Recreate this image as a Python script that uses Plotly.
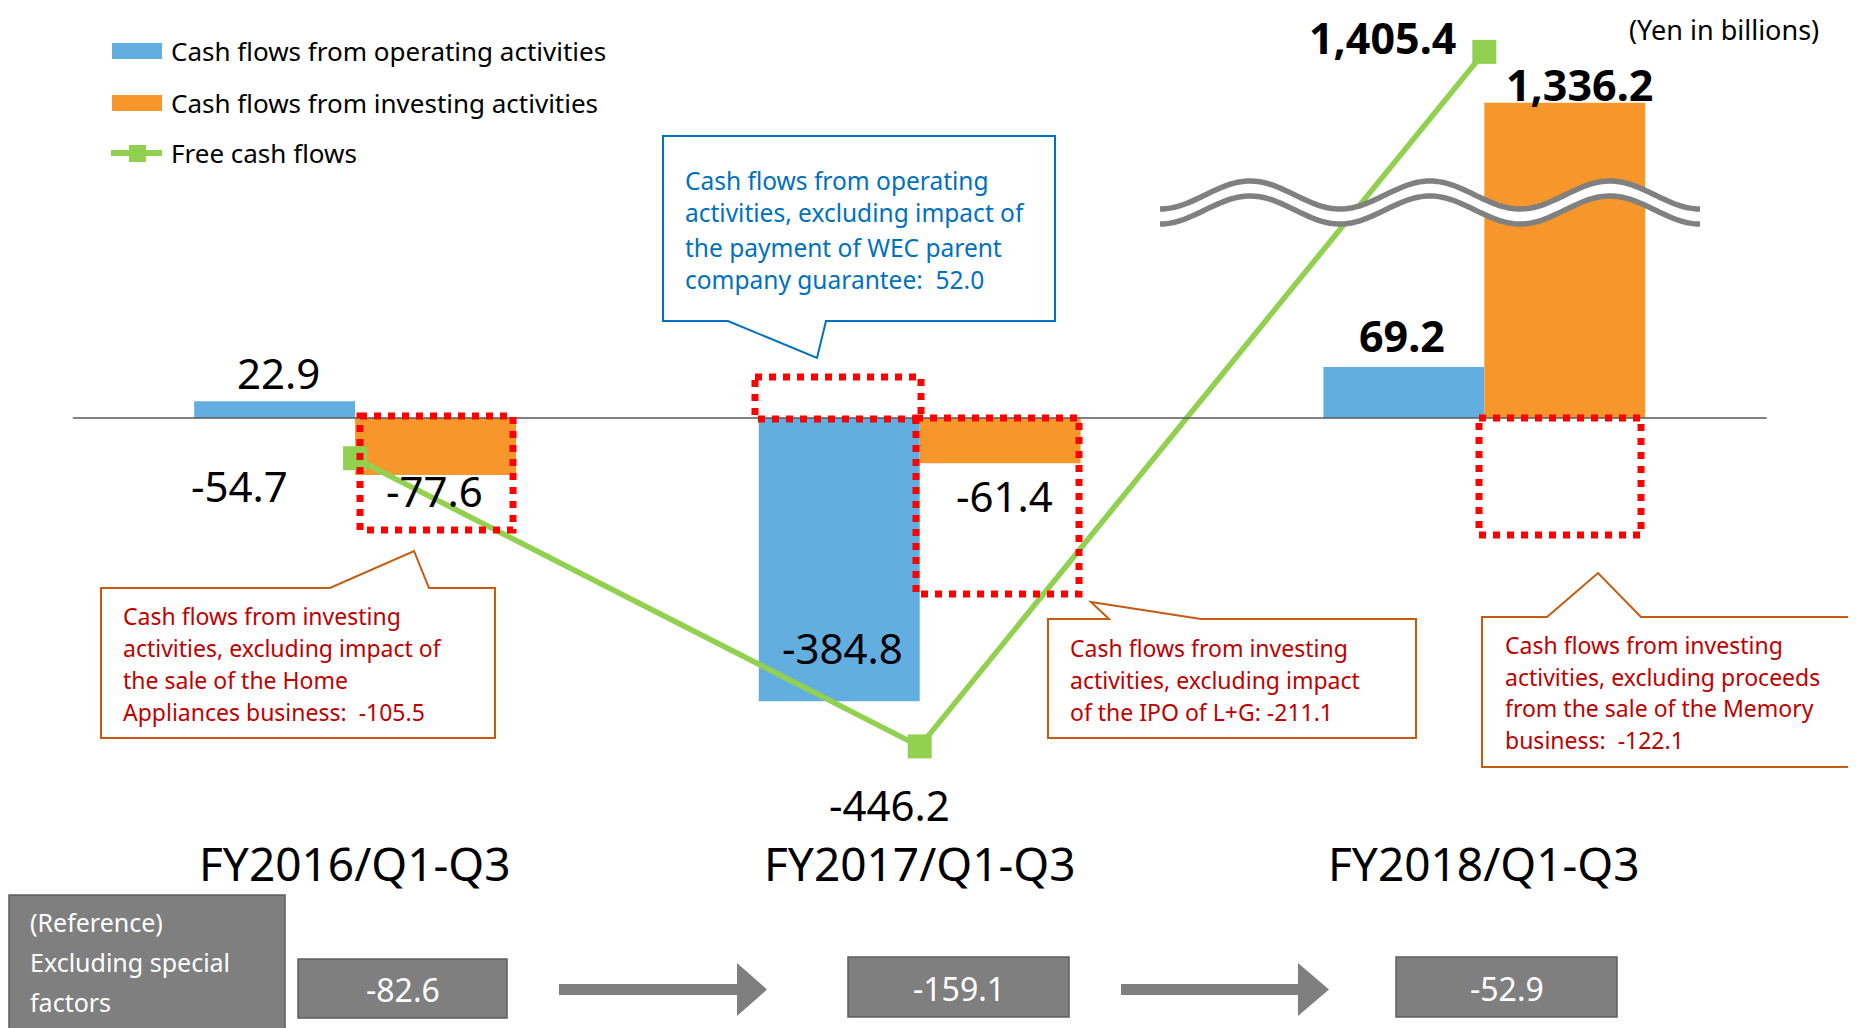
import math
import plotly.graph_objects as go

# ---------------- data ----------------
categories = ["FY2016/Q1-Q3", "FY2017/Q1-Q3", "FY2018/Q1-Q3"]
operating_cf = [22.9, -384.8, 69.2]
investing_cf = [-77.6, -61.4, 1336.2]
free_cf = [-54.7, -446.2, 1405.4]
excluding_special = [-82.6, -159.1, -52.9]
series_names = ["Cash flows from operating activities",
                "Cash flows from investing activities",
                "Free cash flows"]
unit_label = "(Yen in billions)"
reference_lines = ["(Reference)", "Excluding special", "factors"]
callout_wec = ["Cash flows from operating", "activities, excluding impact of",
               "the payment of WEC parent", "company guarantee:  52.0"]
callout_home = ["Cash flows from investing", "activities, excluding impact of",
                "the sale of the Home", "Appliances business:  -105.5"]
callout_ipo = ["Cash flows from investing", "activities, excluding impact",
               "of the IPO of L+G: -211.1"]
callout_memory = ["Cash flows from investing", "activities, excluding proceeds",
                  "from the sale of the Memory", "business:  -122.1"]

# ---------------- layout constants ----------------
W, H = 1856, 1028           # browser window
OFF = 8                     # page body margin
FW, FH = W - OFF, H - OFF   # figure size
X0_PX, X_STEP = 355.1 - OFF, 564.6      # figure pixel of first category, pixels per category
Y0_PX, Y_SCALE = 418.0 - OFF, 0.736     # figure pixel of zero, pixels per unit
BREAK_LEVEL, BREAK_SHIFT = 600, 908  # broken axis: values above level drawn shifted down
BAR_W = 0.285

BLUE = "#62AEE0"
ORANGE = "#F7962B"
GREEN = "#92D050"
RED = "#FF0000"
FONT = "Noto Sans"


def shown(v):
    return v - BREAK_SHIFT if v > BREAK_LEVEL else v


def PX(x):  # screen pixel -> paper
    return (x - OFF) / FW


def PY(y):
    return 1 - (y - OFF) / FH


xs = list(range(len(categories)))

fig = go.Figure()
fig.add_trace(go.Bar(x=xs, y=[shown(v) for v in operating_cf], width=BAR_W, offset=-BAR_W,
                     marker=dict(color=BLUE, line=dict(width=0)), name=series_names[0]))
fig.add_trace(go.Bar(x=xs, y=[shown(v) for v in investing_cf], width=BAR_W, offset=0,
                     marker=dict(color=ORANGE, line=dict(width=0)), name=series_names[1]))
fig.add_trace(go.Scatter(x=xs, y=[shown(v) for v in free_cf], mode="lines+markers",
                         line=dict(color=GREEN, width=5.5),
                         marker=dict(symbol="square", size=24, color=GREEN),
                         name=series_names[2]))

shapes = []
annotations = []

# zero line
shapes.append(dict(type="line", xref="x", yref="y", x0=-0.5, x1=2.5, y0=0, y1=0,
                   line=dict(color="#595959", width=1.3), layer="above"))

# axis-break wave
def wave_pts(offset):
    pts = []
    n = 160
    for i in range(n + 1):
        px = 1160 + 540 * i / n
        py = 195 + offset + 14 * math.cos(2 * math.pi * (px - 1160) / 180)
        pts.append((px, py))
    return pts

up = wave_pts(0)
lo = wave_pts(15)
band = "M " + " L ".join(f"{PX(a):.5f},{PY(b):.5f}" for a, b in up + lo[::-1]) + " Z"
shapes.append(dict(type="path", xref="paper", yref="paper", path=band,
                   fillcolor="white", line=dict(width=0), layer="above"))
for pts in (up, lo):
    p = "M " + " L ".join(f"{PX(a):.5f},{PY(b):.5f}" for a, b in pts)
    shapes.append(dict(type="path", xref="paper", yref="paper", path=p,
                       line=dict(color="#808080", width=5.5), layer="above"))

# red dotted highlight boxes
for (x0, x1, y0, y1) in [(360, 513, 416, 530), (755, 921, 377, 419),
                         (916, 1079, 418, 594), (1479, 1641, 418, 535)]:
    shapes.append(dict(type="rect", xref="paper", yref="paper",
                       x0=PX(x0), x1=PX(x1), y0=PY(y0), y1=PY(y1),
                       line=dict(color=RED, width=7, dash="dot"), layer="above"))


def poly(points, fill, line_color, line_width):
    p = "M " + " L ".join(f"{PX(a):.5f},{PY(b):.5f}" for a, b in points) + " Z"
    shapes.append(dict(type="path", xref="paper", yref="paper", path=p,
                       fillcolor=fill, line=dict(color=line_color, width=line_width),
                       layer="above"))


# callouts
poly([(663, 136), (1055, 136), (1055, 321), (826, 321), (817, 358), (728, 321), (663, 321)],
     "white", "#0070C0", 2)
poly([(101, 588), (330, 588), (414, 551), (429, 588), (495, 588), (495, 738), (101, 738)],
     "white", "#C55A11", 2)
poly([(1048, 619), (1109, 619), (1091, 602), (1201, 619), (1416, 619), (1416, 738), (1048, 738)],
     "white", "#C55A11", 2)
poly([(1482, 617), (1547, 617), (1598, 573), (1641, 617), (1870, 617), (1870, 767), (1482, 767)],
     "white", "#C55A11", 2)


def text_lines(lines, x, ys, color, size):
    for t, y in zip(lines, ys):
        annotations.append(dict(text=t, xref="paper", yref="paper", x=PX(x), y=PY(y),
                                xanchor="left", yanchor="middle", showarrow=False,
                                font=dict(family=FONT, size=size, color=color)))


text_lines(callout_wec, 683, [180, 213, 247, 280], "#0070C0", 24.5)
text_lines(callout_home, 121, [616, 648, 680, 712], "#C00000", 23)
text_lines(callout_ipo, 1068, [648, 680, 712], "#C00000", 23)
text_lines(callout_memory, 1503, [645, 677, 708, 740], "#C00000", 23)

# value labels
labels = [
    (xs[0] - BAR_W / 2, operating_cf[0], 4, 29, False),
    (xs[0], free_cf[0], -116, -27, False),
    (xs[0] + BAR_W / 2, investing_cf[0], -1, -15, False),
    (xs[1] - BAR_W / 2, operating_cf[1], 3, 54, False),
    (xs[1] + BAR_W / 2, investing_cf[1], 4, -32, False),
    (xs[1], free_cf[1], -30, -58, False),
    (xs[2] - BAR_W / 2, operating_cf[2], -2, 32, True),
    (xs[2] + BAR_W / 2, investing_cf[2], 15, 18, True),
    (xs[2], free_cf[2], -102, 14, True),
]
for x, v, dx, dy, bold in labels:
    t = f"{v:,.1f}"
    if bold:
        t = f"<b>{t}</b>"
    annotations.append(dict(text=t, xref="x", yref="y", x=x, y=shown(v),
                            xshift=dx, yshift=dy, xanchor="center", yanchor="middle",
                            showarrow=False,
                            font=dict(family=FONT, size=43 if bold else 42, color="black")))

# category labels
for x, c in zip(xs, categories):
    annotations.append(dict(text=c, xref="x", yref="paper", x=x, y=PY(863),
                            xanchor="center", yanchor="middle", showarrow=False,
                            font=dict(family=FONT, size=46, color="black")))

# unit label
annotations.append(dict(text=unit_label, xref="paper", yref="paper", x=PX(1821), y=PY(8.5),
                        xanchor="right", yanchor="top", showarrow=False,
                        font=dict(family=FONT, size=27, color="black")))

# custom legend
shapes.append(dict(type="rect", xref="paper", yref="paper", x0=PX(112), x1=PX(162),
                   y0=PY(43), y1=PY(59), fillcolor=BLUE, line=dict(width=0)))
shapes.append(dict(type="rect", xref="paper", yref="paper", x0=PX(112), x1=PX(162),
                   y0=PY(95), y1=PY(111), fillcolor=ORANGE, line=dict(width=0)))
shapes.append(dict(type="line", xref="paper", yref="paper", x0=PX(111), x1=PX(162),
                   y0=PY(153), y1=PY(153), line=dict(color=GREEN, width=6)))
shapes.append(dict(type="rect", xref="paper", yref="paper", x0=PX(129), x1=PX(146),
                   y0=PY(145), y1=PY(162), fillcolor=GREEN, line=dict(width=0)))
for name, y in zip(series_names, [51, 103, 153]):
    annotations.append(dict(text=name, xref="paper", yref="paper", x=PX(169), y=PY(y),
                            xanchor="left", yanchor="middle", showarrow=False,
                            font=dict(family=FONT, size=26, color="black")))

# reference section
GRAY = "#7F7F7F"
shapes.append(dict(type="rect", xref="paper", yref="paper", x0=PX(9), x1=PX(285),
                   y0=PY(895), y1=PY(1035), fillcolor=GRAY,
                   line=dict(color="#5E5E5E", width=1.5), layer="above"))
text_lines(reference_lines, 28, [922, 962, 1002], "white", 25)

boxes = [(298, 507, 959, 1018), (848, 1069, 957, 1017), (1396, 1617, 957, 1017)]
for (x0, x1, y0, y1), v in zip(boxes, excluding_special):
    shapes.append(dict(type="rect", xref="paper", yref="paper", x0=PX(x0), x1=PX(x1),
                       y0=PY(y0), y1=PY(y1), fillcolor=GRAY,
                       line=dict(color="#5E5E5E", width=1.5), layer="above"))
    annotations.append(dict(text=f"{v:.1f}", xref="paper", yref="paper",
                            x=PX((x0 + x1) / 2), y=PY((y0 + y1) / 2 + 1),
                            xanchor="center", yanchor="middle", showarrow=False,
                            font=dict(family=FONT, size=32, color="white")))

for x_start, x_neck, x_tip in [(559, 737, 767), (1121, 1298, 1329)]:
    poly([(x_start, 984), (x_neck, 984), (x_neck, 963), (x_tip, 989.5),
          (x_neck, 1016), (x_neck, 995), (x_start, 995)], GRAY, GRAY, 0)

fig.update_layout(
    width=FW, height=FH,
    margin=dict(l=0, r=0, t=0, b=0),
    paper_bgcolor="white", plot_bgcolor="white",
    barmode="overlay",
    showlegend=False,
    xaxis=dict(range=[-X0_PX / X_STEP, (FW - X0_PX) / X_STEP], visible=False, fixedrange=True),
    yaxis=dict(range=[(Y0_PX - FH) / Y_SCALE, Y0_PX / Y_SCALE], visible=False, fixedrange=True),
    shapes=shapes,
    annotations=annotations,
    font=dict(family=FONT),
)

fig.write_html("out.html")
